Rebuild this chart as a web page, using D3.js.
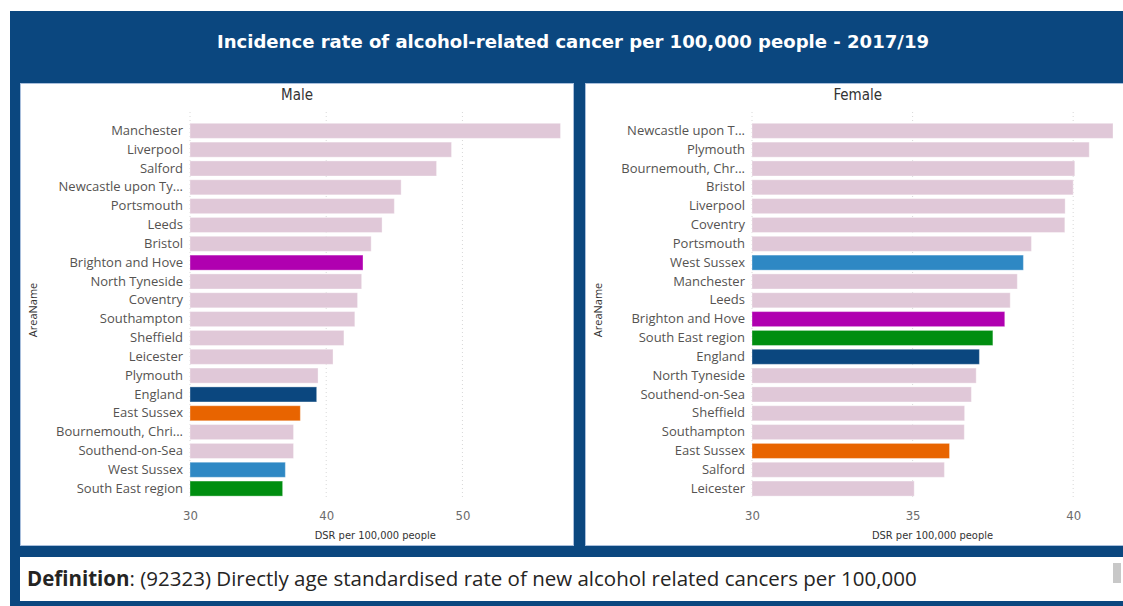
<!DOCTYPE html>
<html>
<head>
<meta charset="utf-8">
<script src="https://cdn.jsdelivr.net/npm/d3@7"></script>
<style>
  html, body { margin: 0; padding: 0; background: #ffffff; }
  svg { display: block; }
</style>
</head>
<body>
<svg id="chart" width="1123" height="606"></svg>
<script>
// Incidence of alcohol-related cancer, DSR per 100,000 people, 2017/19

const maleAreas = [
  "Manchester", "Liverpool", "Salford", "Newcastle upon Ty...", "Portsmouth",
  "Leeds", "Bristol", "Brighton and Hove", "North Tyneside", "Coventry",
  "Southampton", "Sheffield", "Leicester", "Plymouth", "England",
  "East Sussex", "Bournemouth, Chri...", "Southend-on-Sea", "West Sussex", "South East region"
];
const maleValues = [
  57.2, 49.2, 48.1, 45.5, 45.0,
  44.1, 43.3, 42.7, 42.6, 42.3,
  42.1, 41.3, 40.5, 39.4, 39.3,
  38.1, 37.6, 37.6, 37.0, 36.8
];

const femaleAreas = [
  "Newcastle upon T...", "Plymouth", "Bournemouth, Chr...", "Bristol", "Liverpool",
  "Coventry", "Portsmouth", "West Sussex", "Manchester", "Leeds",
  "Brighton and Hove", "South East region", "England", "North Tyneside", "Southend-on-Sea",
  "Sheffield", "Southampton", "East Sussex", "Salford", "Leicester"
];
const femaleValues = [
  41.24, 40.5, 40.05, 40.0, 39.75,
  39.74, 38.7, 38.45, 38.26, 38.04,
  37.87, 37.5, 37.08, 36.98, 36.83,
  36.62, 36.61, 36.15, 35.99, 35.05
];

const maleTicks = [30, 40, 50];
const femaleTicks = [30, 35, 40];
const axisStart = 30;

// Highlighted areas; every other area uses the default pink
const highlightAreas = ["Brighton and Hove", "England", "East Sussex", "West Sussex", "South East region"];
const highlightColors = ["#b000b0", "#0b477f", "#e86400", "#2e88c4", "#008e10"];
const defaultColor = "#e0c8d8";

const titleText = "Incidence rate of alcohol-related cancer per 100,000 people - 2017/19";
const axisTitle = "DSR per 100,000 people";
const yTitle = "AreaName";

const navy = "#0b477f";
const labelFont = "'Open Sans', 'Noto Sans', sans-serif";
const dinFont = "'DejaVu Sans Condensed', 'DejaVu Sans', sans-serif";

const colorScale = d3.scaleOrdinal().domain(highlightAreas).range(highlightColors).unknown(defaultColor);

const svg = d3.select("#chart");

// page background band
svg.append("rect").attr("x", 10).attr("y", 11).attr("width", 1113).attr("height", 595).attr("fill", navy);

svg.append("text")
  .attr("x", 573).attr("y", 48)
  .attr("text-anchor", "middle")
  .attr("fill", "#ffffff")
  .attr("font-family", dinFont)
  .attr("font-weight", "bold")
  .attr("font-size", 18)
  .attr("textLength", 712)
  .attr("lengthAdjust", "spacingAndGlyphs")
  .text(titleText);

function drawPanel(cfg) {
  const g = svg.append("g");
  g.append("rect")
    .attr("x", cfg.x0).attr("y", 83.5)
    .attr("width", cfg.x1 - cfg.x0).attr("height", 462)
    .attr("fill", "#ffffff")
    .attr("stroke", "#a9bfdc").attr("stroke-width", 1);

  g.append("text")
    .attr("x", (cfg.x0 + cfg.x1) / 2).attr("y", 100)
    .attr("text-anchor", "middle")
    .attr("fill", "#333333")
    .attr("font-family", dinFont)
    .attr("font-size", 15)
    .text(cfg.title);

  const x = d3.scaleLinear().domain([axisStart, d3.max(cfg.values)]).range([cfg.left, cfg.right]);
  const y = d3.scaleBand().domain(cfg.areas).range([121.4, 498]).paddingInner(0.2).paddingOuter(0.1);

  // dotted vertical gridlines
  g.append("g").selectAll("line").data(cfg.ticks).join("line")
    .attr("x1", d => x(d)).attr("x2", d => x(d))
    .attr("y1", 112).attr("y2", 500)
    .attr("stroke", "#d8d8d8").attr("stroke-width", 1)
    .attr("stroke-dasharray", "1,3");

  const rows = cfg.areas.map((a, i) => ({ area: a, value: cfg.values[i] }));

  g.append("g").selectAll("rect").data(rows).join("rect")
    .attr("x", x(axisStart))
    .attr("y", d => y(d.area))
    .attr("width", d => x(d.value) - x(axisStart))
    .attr("height", y.bandwidth())
    .attr("fill", d => colorScale(d.area))
    .attr("stroke", "#ffffff").attr("stroke-opacity", 0.35).attr("stroke-width", 1);

  // category axis
  const yAxis = g.append("g")
    .attr("transform", `translate(${cfg.left},0)`)
    .call(d3.axisLeft(y).tickSize(0).tickPadding(7));
  yAxis.select(".domain").remove();
  yAxis.selectAll("text")
    .attr("fill", "#555351")
    .attr("font-family", labelFont)
    .attr("font-size", 13);

  // value axis
  const xAxis = g.append("g")
    .attr("transform", "translate(0,505)")
    .call(d3.axisBottom(x).tickValues(cfg.ticks).tickSize(0).tickPadding(6));
  xAxis.select(".domain").remove();
  xAxis.selectAll("text")
    .attr("fill", "#6b6b6b")
    .attr("font-family", dinFont)
    .attr("font-size", 13);

  g.append("text")
    .attr("x", (cfg.left + cfg.right) / 2).attr("y", 539)
    .attr("text-anchor", "middle")
    .attr("fill", "#333333")
    .attr("font-family", dinFont)
    .attr("font-size", 11)
    .text(axisTitle);

  g.append("text")
    .attr("transform", `translate(${cfg.x0 + 16},310) rotate(-90)`)
    .attr("text-anchor", "middle")
    .attr("fill", "#333333")
    .attr("font-family", labelFont)
    .attr("font-size", 11)
    .text(yTitle);
}

drawPanel({ title: "Male", x0: 20.5, x1: 573.5, left: 190, right: 560.5, areas: maleAreas, values: maleValues, ticks: maleTicks });
drawPanel({ title: "Female", x0: 585.5, x1: 1130, left: 752, right: 1113, areas: femaleAreas, values: femaleValues, ticks: femaleTicks });

// definition strip
svg.append("rect").attr("x", 20).attr("y", 557).attr("width", 1110).attr("height", 44).attr("fill", "#ffffff");
svg.append("rect").attr("x", 1113).attr("y", 563).attr("width", 8).attr("height", 20).attr("fill", "#c8c8c8");
const def = svg.append("text")
  .attr("x", 27).attr("y", 586)
  .attr("fill", "#252423")
  .attr("font-family", labelFont)
  .attr("font-size", 20.5);
def.append("tspan").attr("font-weight", "bold").text("Definition");
def.append("tspan").text(":  (92323) Directly age standardised rate of new alcohol related cancers per 100,000");
</script>
</body>
</html>
